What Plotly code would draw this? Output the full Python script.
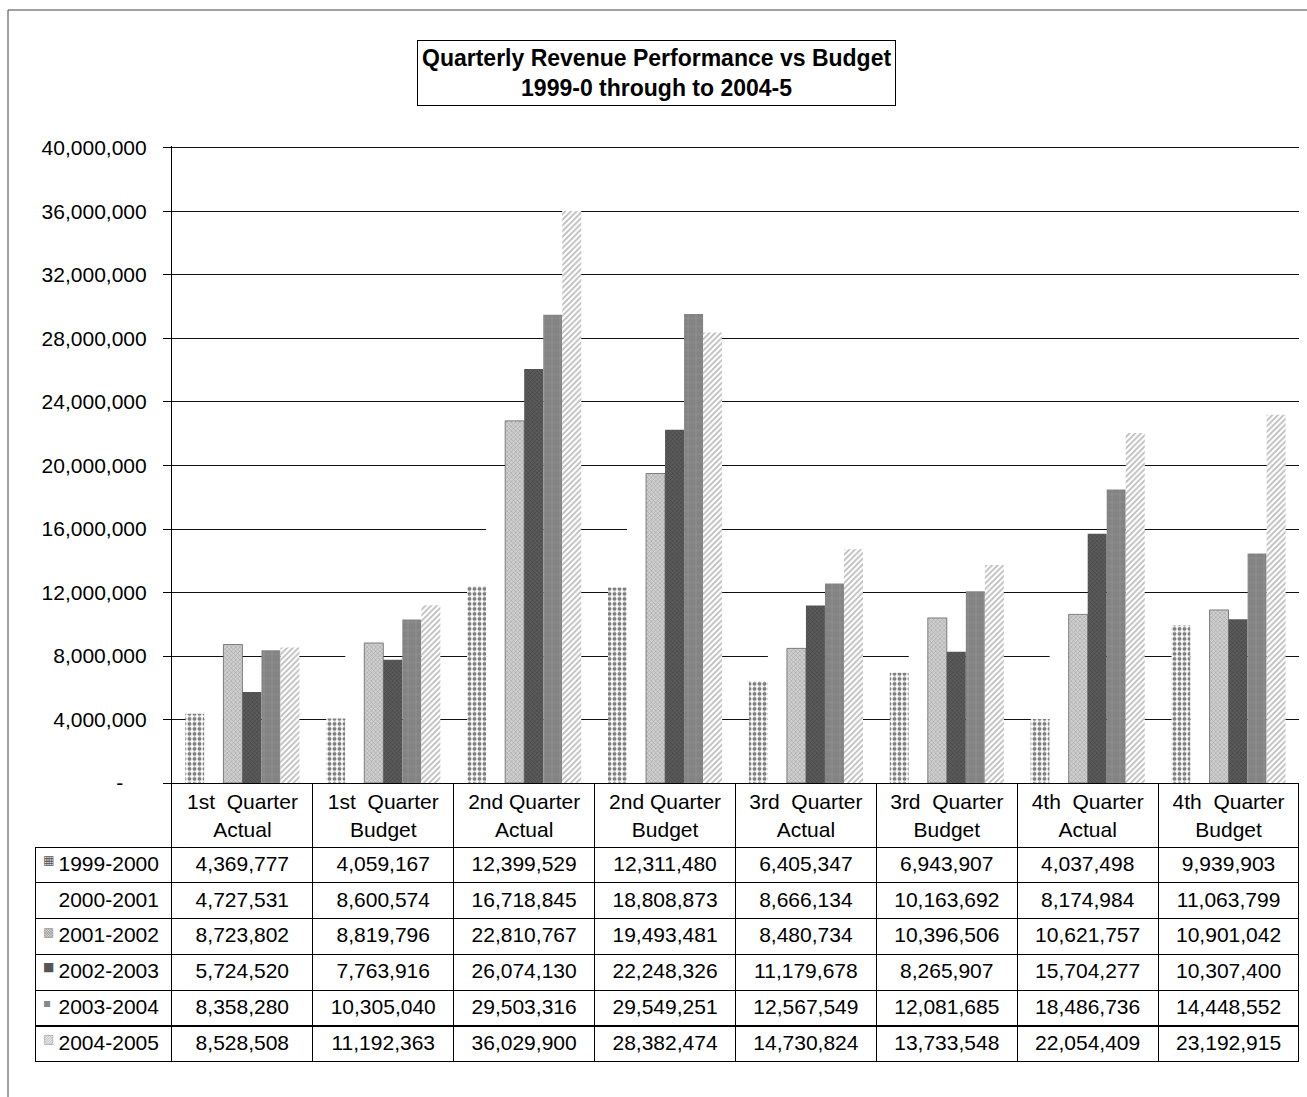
import plotly.graph_objects as go

# Quarter columns (category keys) and the two-line labels shown above the table
quarters = ["1st Quarter Actual", "1st Quarter Budget", "2nd Quarter Actual", "2nd Quarter Budget",
            "3rd Quarter Actual", "3rd Quarter Budget", "4th Quarter Actual", "4th Quarter Budget"]
quarter_labels = ["1st\u00a0 Quarter<br>Actual", "1st\u00a0 Quarter<br>Budget",
                  "2nd Quarter<br>Actual", "2nd Quarter<br>Budget",
                  "3rd\u00a0 Quarter<br>Actual", "3rd\u00a0 Quarter<br>Budget",
                  "4th\u00a0 Quarter<br>Actual", "4th\u00a0 Quarter<br>Budget"]

years = ["1999-2000", "2000-2001", "2001-2002", "2002-2003", "2003-2004", "2004-2005"]

rev_1999_2000 = [4369777, 4059167, 12399529, 12311480, 6405347, 6943907, 4037498, 9939903]
rev_2000_2001 = [4727531, 8600574, 16718845, 18808873, 8666134, 10163692, 8174984, 11063799]
rev_2001_2002 = [8723802, 8819796, 22810767, 19493481, 8480734, 10396506, 10621757, 10901042]
rev_2002_2003 = [5724520, 7763916, 26074130, 22248326, 11179678, 8265907, 15704277, 10307400]
rev_2003_2004 = [8358280, 10305040, 29503316, 29549251, 12567549, 12081685, 18486736, 14448552]
rev_2004_2005 = [8528508, 11192363, 36029900, 28382474, 14730824, 13733548, 22054409, 23192915]

y_tickvals = [0, 4000000, 8000000, 12000000, 16000000, 20000000, 24000000, 28000000, 32000000, 36000000, 40000000]
y_ticktext = ["-\u00a0\u00a0\u00a0\u00a0", "4,000,000", "8,000,000", "12,000,000", "16,000,000", "20,000,000",
              "24,000,000", "28,000,000", "32,000,000", "36,000,000", "40,000,000"]

series = [rev_1999_2000, rev_2000_2001, rev_2001_2002, rev_2002_2003, rev_2003_2004, rev_2004_2005]

# Fill styles for each financial year (monochrome print look)
styles = [
    dict(color="white", line=dict(width=0),
         pattern=dict(shape=".", fgcolor="#000000", bgcolor="white", size=5, solidity=0.5)),
    dict(color="white", line=dict(width=0)),
    dict(color="#bdbdbd", line=dict(width=0.8, color="#666666"),
         pattern=dict(shape="x", fgcolor="#7a7a7a", bgcolor="#cfcfcf", size=3, solidity=0.35)),
    dict(color="#4d4d4d", line=dict(width=0),
         pattern=dict(shape="x", fgcolor="#2a2a2a", bgcolor="#5a5a5a", size=3, solidity=0.3)),
    dict(color="#8c8c8c", line=dict(width=0),
         pattern=dict(shape="+", fgcolor="#aaaaaa", bgcolor="#838383", size=8, solidity=0.15)),
    dict(color="white", line=dict(width=0),
         pattern=dict(shape="/", fgcolor="#777777", bgcolor="white", size=4, solidity=0.45)),
]
key_glyphs = ["▦", " ", "▩", "■", "▪", "▨"]
key_colors = ["#555555", "white", "#999999", "#555555", "#888888", "#aaaaaa"]

FONT = "Liberation Sans, Arial, sans-serif"
W, H = 1307, 1097
CLEAR = "rgba(0,0,0,0)"
TABLE_X = [35 / W, 1299 / W]
TABLE_Y = [1 - 1062 / H, 1 - 783 / H]
N = len(quarters)

fig = go.Figure()
for name, vals, st in zip(years, series, styles):
    fig.add_trace(go.Bar(x=quarters, y=vals, name=name, marker=st))

# Data table grid under the chart: one row per financial year, one column per quarter
columns = [[f"{s[i]:,}" for s in series] for i in range(N)]

fig.add_trace(go.Table(
    domain=dict(x=TABLE_X, y=TABLE_Y),
    columnwidth=[137] + [141] * N,
    header=dict(values=[""] * (N + 1), height=64,
                fill=dict(color=CLEAR),
                line=dict(color=[CLEAR] + ["black"] * N, width=1),
                font=dict(family=FONT, size=21, color="black")),
    cells=dict(values=[[""] * len(years)] + columns, height=35.8,
               align="center",
               fill=dict(color="white"), line=dict(color="black", width=1),
               font=dict(family=FONT, size=21, color="black")),
))

# Year labels in the first column
fig.add_trace(go.Table(
    domain=dict(x=[50.5 / W, 172 / W], y=TABLE_Y),
    columnwidth=[1],
    header=dict(values=[""], height=64, fill=dict(color=CLEAR), line=dict(color=CLEAR, width=0)),
    cells=dict(values=[years], height=35.8, align="left",
               fill=dict(color=CLEAR), line=dict(color=CLEAR, width=0),
               font=dict(family=FONT, size=21, color="black")),
))

# Small series keys in front of the year labels
fig.add_trace(go.Table(
    domain=dict(x=[35 / W, 70 / W], y=TABLE_Y),
    columnwidth=[1],
    header=dict(values=[""], height=64, fill=dict(color=CLEAR), line=dict(color=CLEAR, width=0)),
    cells=dict(values=[key_glyphs], height=35.8, align="left",
               fill=dict(color=CLEAR), line=dict(color=CLEAR, width=0),
               font=dict(family="DejaVu Sans", size=12, color=[key_colors])),
))

fig.update_layout(
    width=W, height=H,
    margin=dict(l=0, r=0, t=0, b=0, autoexpand=False),
    paper_bgcolor="white", plot_bgcolor="white",
    showlegend=False,
    barmode="group", bargap=0.19, bargroupgap=0,
    font=dict(family=FONT, size=21, color="black"),
    xaxis=dict(domain=[172 / W, 1299 / W], tickmode="array", tickvals=quarters, ticktext=quarter_labels,
               ticks="", ticklabelstandoff=0, tickfont=dict(family=FONT, size=21, color="black"),
               showgrid=False, showline=True, linecolor="black", linewidth=1, zeroline=False,
               automargin=False),
    yaxis=dict(domain=[1 - 783 / H, 1 - 146.4 / H], range=[0, 40100000],
               tickmode="array", tickvals=y_tickvals, ticktext=y_ticktext,
               showgrid=True, gridcolor="#111111", gridwidth=1.4,
               showline=True, linecolor="black", linewidth=1.2,
               ticks="outside", ticklen=8, tickcolor="black", ticklabelstandoff=12,
               tickfont=dict(family=FONT, size=21, color="black"), zeroline=False,
               automargin=False),
    annotations=[dict(
        text="<b>Quarterly Revenue Performance vs Budget<br>1999-0 through to 2004-5</b>",
        xref="paper", yref="paper", x=656 / W, y=1 - 40 / H, xanchor="center", yanchor="top",
        showarrow=False, align="center", font=dict(family=FONT, size=23, color="black"),
        bordercolor="black", borderwidth=1, borderpad=4, bgcolor="white")],
    shapes=[dict(type="rect", xref="paper", yref="paper", x0=8 / W, x1=1.05, y0=-0.05, y1=1 - 10 / H,
                 line=dict(color="#444444", width=1), layer="below")],
)

fig.write_html("out.html")
